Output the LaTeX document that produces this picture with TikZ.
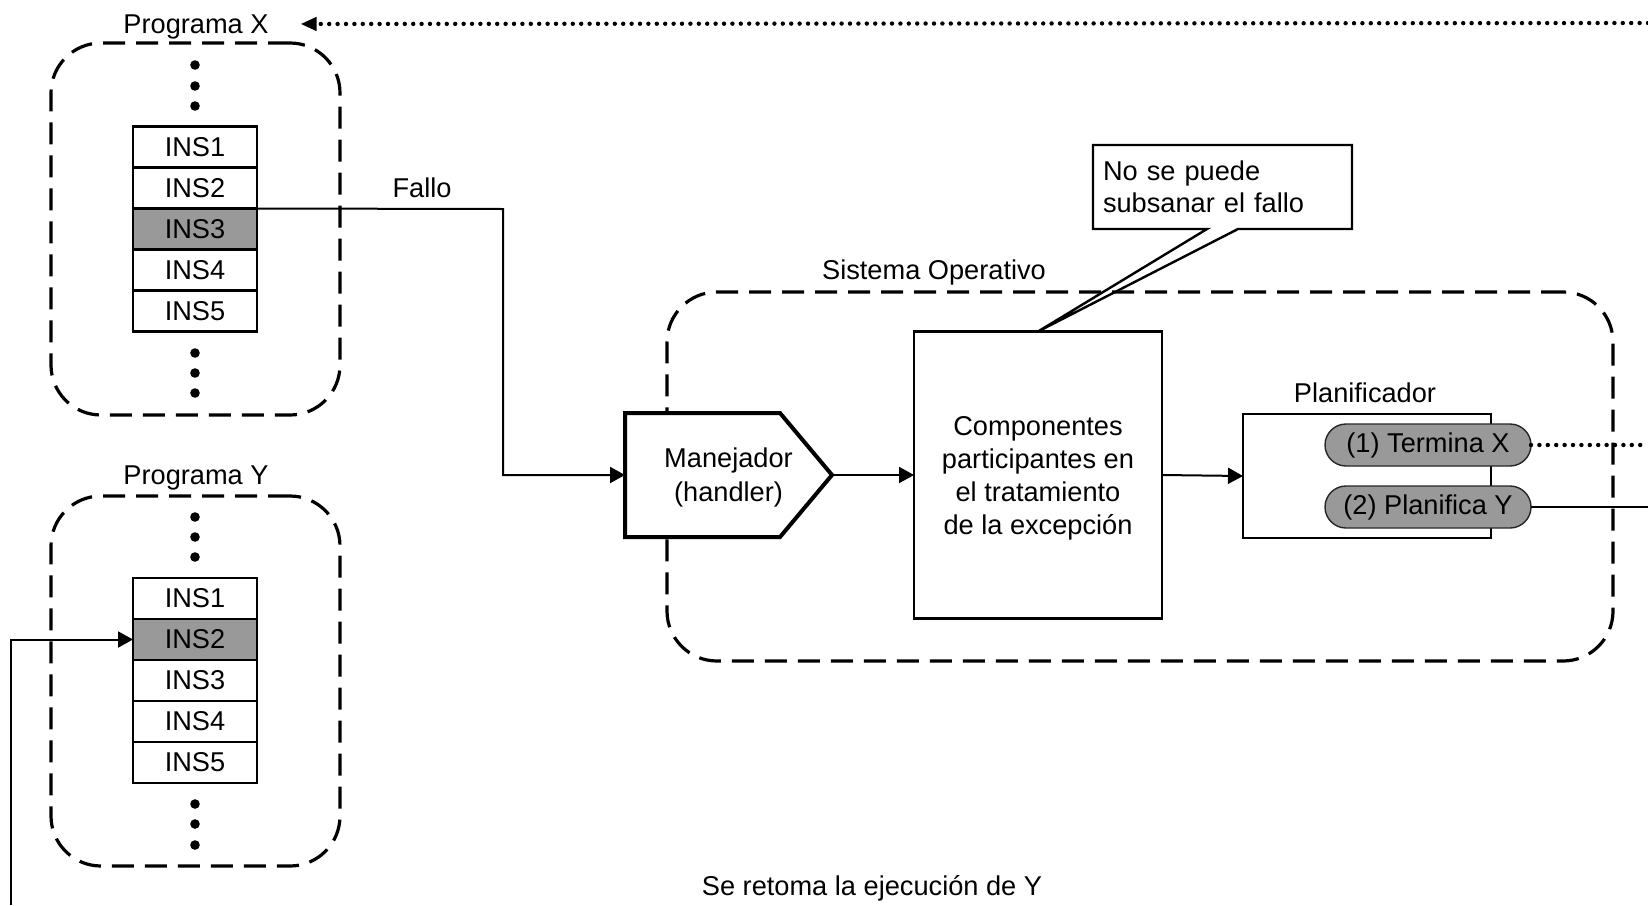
\documentclass[tikz,border=0pt]{standalone}
\usepackage{fontspec}
\setmainfont{Liberation Sans}
\usetikzlibrary{arrows.meta}
\definecolor{boxgray}{HTML}{999999}
\begin{document}
\begin{tikzpicture}[x=0.5pt,y=-0.5pt,
  font=\fontsize{13.6}{16.5}\selectfont,
  every node/.append style={outer sep=0pt},
  ins/.style={draw, line width=1.2pt, minimum width=62pt, minimum height=20.5pt, inner sep=0pt},
  hl/.style={fill=boxgray},
  grp/.style={draw, line width=1.6pt, dash pattern=on 11pt off 5.5pt, rounded corners=25pt, inner sep=0pt},
  lbl/.style={inner sep=0pt, text depth=0pt},
  conn/.style={line width=1pt},
  arr/.style={conn, -{Triangle[length=7.5pt,width=8pt]}},
  dotline/.style={line width=2.2pt, dash pattern=on 0pt off 4.2pt, line cap=round},
  pill/.style={draw=black!85, line width=0.7pt, fill=boxgray, rounded corners=10.5pt, minimum width=103pt, minimum height=21pt, inner sep=0pt},
  solidbox/.style={draw, line width=1.2pt, inner sep=0pt},
]
\useasboundingbox (0,0) rectangle (1648,905);

% ---------- Programa X ----------
\node[grp, minimum width=144.5pt, minimum height=186pt] (grpX) at (195.5,229) {};
\node[lbl] (progX) at (196,24) {Programa X};
\node[ins] (x1) at (195,147) {INS1};
\node[ins] (x2) at (195,188) {INS2};
\node[ins,hl] (x3) at (195,229) {INS3};
\node[ins] (x4) at (195,270) {INS4};
\node[ins] (x5) at (195,311) {INS5};
\foreach \yy in {65,86,106,353,373,393} \fill (195,\yy) circle[radius=2.4pt];

% ---------- Programa Y ----------
\node[grp, minimum width=144.5pt, minimum height=185pt] (grpY) at (195.5,681) {};
\node[lbl] (progY) at (196,475) {Programa Y};
\node[ins] (y1) at (195,598.5) {INS1};
\node[ins,hl] (y2) at (195,639.5) {INS2};
\node[ins] (y3) at (195,680.5) {INS3};
\node[ins] (y4) at (195,721.5) {INS4};
\node[ins] (y5) at (195,762.5) {INS5};
\foreach \yy in {517,537,557,804,824,845} \fill (195,\yy) circle[radius=2.4pt];

% ---------- Sistema Operativo ----------
\node[grp, minimum width=473pt, minimum height=184.5pt] (so) at (1140,476.5) {};
\node[lbl] (soLbl) at (934,270) {Sistema Operativo};

% handler
\node[inner sep=0pt, minimum width=103.5pt, minimum height=62pt] (handler) at (728.5,475) {};
\draw[line width=2pt, line join=miter, fill=white] (handler.north west) -- ([xshift=-26pt]handler.north east)
  -- (handler.east) -- ([xshift=-26pt]handler.south east) -- (handler.south west) -- cycle;
\node[inner sep=0pt, align=center, text depth=0pt, font=\fontsize{13.6}{17}\selectfont]
  (handlerTxt) at (handler.center) {Manejador\\(handler)};

% components
\node[solidbox, minimum width=124pt, minimum height=143.5pt, align=center, text depth=0pt] (comp) at (1038,475)
  {Componentes\\participantes en\\el tratamiento\\de la excepción};

% planificador
\node[solidbox, minimum width=124pt, minimum height=62pt] (plan) at (1367,476) {};
\node[lbl] (planLbl) at (1365,393) {Planificador};
\node[pill] (term) at (1428,445) {(1) Termina X};
\node[pill] (planY) at (1428,507) {(2) Planifica Y};

% callout
\node[inner sep=0pt, inner xsep=5pt, text width=119.5pt, minimum height=42pt, align=left,
      font=\fontsize{13.6}{16}\selectfont] (call) at (1222.5,187) {No se puede\\subsanar el fallo};
\draw[line width=1.2pt, line join=miter] (call.north west) -- (call.north east) -- (call.south east)
  -- ([xshift=72.5pt]call.south west) -- (comp.north) -- ([xshift=57pt]call.south west)
  -- (call.south west) -- cycle;

% ---------- labels ----------
\node[lbl] (fallo) at (422,188) {Fallo};
\node[inner sep=0pt] (retoma) at (872,888) {Se retoma la ejecución de Y};

% ---------- connectors ----------
\coordinate (cTop) at (1648,23);
\coordinate (cTerm) at (1648,445);
\coordinate (cPlan) at (1648,507);
\coordinate (cRet) at (11,905);
\coordinate (cFallo) at (503,209);

\draw[arr] (x3.north east) -- (cFallo) |- (handler.west);
\draw[arr] (handler.east) -- (comp.west);
\draw[arr] (comp.east) -- (plan.west);
\draw[dotline] (term.east) -- (cTerm);
\draw[conn] (planY.east) -- (cPlan);
\draw[dotline, -{Triangle[length=8pt,width=6.5pt]}, shorten >=16pt] (cTop) -- (progX.east);
\draw[arr] (cRet) |- (y2.west);
\end{tikzpicture}
\end{document}
